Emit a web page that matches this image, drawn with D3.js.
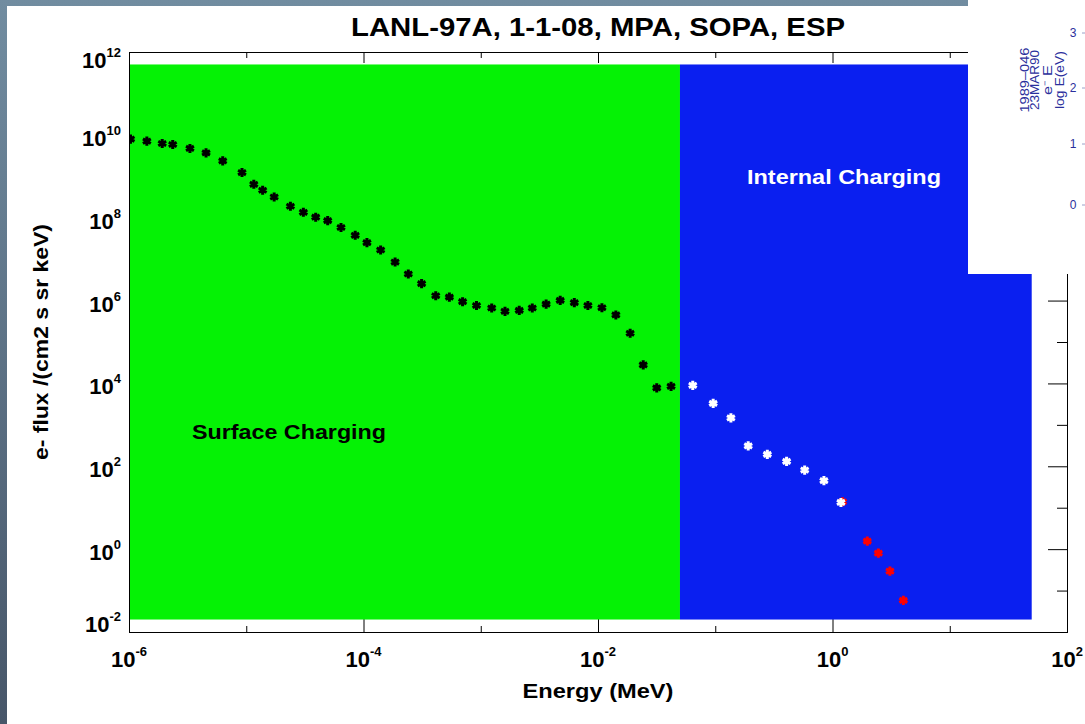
<!DOCTYPE html>
<html>
<head>
<meta charset="utf-8">
<script src="https://cdn.jsdelivr.net/npm/d3@7"></script>
<style>
  html, body { margin: 0; padding: 0; background: #fff; }
  svg { display: block; }
  text { font-family: 'Liberation Sans', Arial, Helvetica, sans-serif; font-weight: bold; }
  text.inset { font-weight: normal; }
</style>
</head>
<body>
<div id="chart"></div>
<script>
// data (energy in MeV, flux per cm2 s sr keV)
const titleText = 'LANL-97A, 1-1-08, MPA, SOPA, ESP';
const xLabel = 'Energy (MeV)';
const yLabel = 'e- flux /(cm2 s sr keV)';

const xDecades = [-6, -5, -4, -3, -2, -1, 0, 1, 2];
const yDecades = [-2, -1, 0, 1, 2, 3, 4, 5, 6, 7, 8, 9, 10, 11, 12];

// charging regions
const regionNames = ['Surface Charging', 'Internal Charging'];
const regionEnergyMin = [1e-6, 0.05];
const regionEnergyMax = [0.05, 50];
const regionFluxMin = 2e-2;
const regionFluxMax = 5e11;

// MPA + SOPA electrons (black)
const energyBlack = [1.03e-6, 1.42e-6, 1.92e-6, 2.36e-6, 3.31e-6, 4.54e-6, 6.3e-6, 9.2e-6,
  1.16e-5, 1.38e-5, 1.73e-5, 2.38e-5, 3.07e-5, 3.91e-5, 4.95e-5, 6.43e-5, 8.5e-5,
  1.07e-4, 1.40e-4, 1.86e-4, 2.41e-4, 3.13e-4, 4.13e-4, 5.40e-4, 7.0e-4, 9.2e-4,
  1.24e-3, 1.61e-3, 2.13e-3, 2.75e-3, 3.61e-3, 4.76e-3, 6.28e-3, 8.2e-3,
  1.08e-2, 1.42e-2, 1.88e-2, 2.43e-2, 3.17e-2, 4.2e-2];
const fluxBlack = [7.9e9, 7.05e9, 6.2e9, 5.86e9, 4.7e9, 3.67e9, 2.35e9, 1.23e9,
  6.4e8, 4.6e8, 3.17e8, 1.89e8, 1.35e8, 1.03e8, 8.5e7, 5.8e7, 3.76e7,
  2.5e7, 1.66e7, 8.5e6, 4.37e6, 2.56e6, 1.31e6, 1.21e6, 9.4e5, 7.6e5,
  6.6e5, 5.5e5, 5.8e5, 6.6e5, 8.2e5, 1.01e6, 8.9e5, 7.6e5,
  6.7e5, 4.5e5, 1.63e5, 2.8e4, 7.8e3, 8.5e3];

// SOPA high energy (white)
const energyWhite = [6.43e-2, 9.6e-2, 0.136, 0.191, 0.278, 0.406, 0.579, 0.845, 1.18];
const fluxWhite = [9.0e3, 3.3e3, 1.47e3, 310, 194, 131, 81, 45, 13.4];

// ESP (red)
const energyRed = [1.22, 1.98, 2.46, 3.09, 4.02];
const fluxRed = [13.9, 1.56, 0.80, 0.294, 0.058];

// inset fragment (top right)
const insetLines = ['1989\u2013046', '23MAR90', 'e\u207B       E', 'log  E(eV)'];
const insetTicks = ['3', '2', '1', '0'];

const width = 1085, height = 724;
const margin = {left: 129, right: 18, top: 52, bottom: 92};

const svg = d3.select('#chart').append('svg')
  .attr('width', width)
  .attr('height', height);

const defs = svg.append('defs');
const grad = defs.append('linearGradient')
  .attr('id', 'bg-grad')
  .attr('x1', '0%').attr('y1', '0%')
  .attr('x2', '0%').attr('y2', '100%');
grad.append('stop').attr('offset', '0%').attr('stop-color', '#718ca0');
grad.append('stop').attr('offset', '100%').attr('stop-color', '#475669');

svg.append('rect').attr('width', width).attr('height', height).attr('fill', 'url(#bg-grad)');
svg.append('rect').attr('x', 7).attr('y', 6)
  .attr('width', width - 7).attr('height', height - 6).attr('fill', '#fff');

const x = d3.scaleLog().domain([1e-6, 1e2]).range([margin.left, width - margin.right]);
const y = d3.scaleLog().domain([1e-2, 1e12]).range([height - margin.bottom, margin.top]);
const x0 = x.range()[0], x1 = x.range()[1];
const y0 = y.range()[0], y1 = y.range()[1];

defs.append('clipPath').attr('id', 'plot-clip')
  .append('rect')
  .attr('x', x0).attr('y', y1)
  .attr('width', x1 - x0).attr('height', y0 - y1);

// ticks (long on even decades, short on odd ones), pointing inwards
const even = (d) => d % 2 === 0;
const xMajor = xDecades.filter(even).map(d => Math.pow(10, d));
const xMinor = xDecades.filter(d => !even(d)).map(d => Math.pow(10, d));
const yMajor = yDecades.filter(even).map(d => Math.pow(10, d));
const yMinor = yDecades.filter(d => !even(d)).map(d => Math.pow(10, d));

function tickAxis(axis, vals, size, tx, ty) {
  const g = svg.append('g').attr('transform', `translate(${tx},${ty})`)
    .call(axis.tickValues(vals).tickSize(size).tickSizeOuter(0).tickFormat(''));
  g.select('.domain').remove();
  g.selectAll('line').attr('stroke', '#000').attr('stroke-width', 1);
}

tickAxis(d3.axisBottom(x), xMajor, 11, 0, y1);
tickAxis(d3.axisBottom(x), xMinor, 6, 0, y1);
tickAxis(d3.axisTop(x), xMajor, 13, 0, y0);
tickAxis(d3.axisTop(x), xMinor, 6, 0, y0);
tickAxis(d3.axisRight(y), yMajor, 19, x0, 0);
tickAxis(d3.axisRight(y), yMinor, 10, x0, 0);
tickAxis(d3.axisLeft(y), yMajor, 19, x1, 0);
tickAxis(d3.axisLeft(y), yMinor, 10, x1, 0);

// charging regions
const regionColors = ['#05f205', '#0a1ff0'];
svg.append('g').selectAll('rect')
  .data(regionNames)
  .join('rect')
  .attr('x', (d, i) => x(regionEnergyMin[i]))
  .attr('y', y(regionFluxMax))
  .attr('width', (d, i) => x(regionEnergyMax[i]) - x(regionEnergyMin[i]))
  .attr('height', y(regionFluxMin) - y(regionFluxMax))
  .attr('fill', (d, i) => regionColors[i]);

// frame
svg.append('rect')
  .attr('x', x0 + 0.5).attr('y', y1 + 0.5)
  .attr('width', x1 - x0).attr('height', y0 - y1)
  .attr('fill', 'none').attr('stroke', '#000').attr('stroke-width', 1);

// data markers
const marker = d3.symbol().type(d3.symbolAsterisk).size(58);
const pts = svg.append('g').attr('clip-path', 'url(#plot-clip)');
function series(es, fs, color) {
  pts.append('g').selectAll('path')
    .data(es.map((e, i) => [e, fs[i]]))
    .join('path')
    .attr('d', marker)
    .attr('transform', d => `translate(${x(d[0])},${y(d[1])})`)
    .attr('fill', 'none')
    .attr('stroke', color)
    .attr('stroke-width', 3);
}
series(energyBlack, fluxBlack, '#000');
series(energyRed, fluxRed, '#ff0000');
series(energyWhite, fluxWhite, '#fff');

// tick labels with superscript exponents
const xl = svg.append('g').selectAll('text')
  .data(xDecades.filter(even))
  .join('text')
  .attr('x', d => x(Math.pow(10, d)))
  .attr('y', 667)
  .attr('text-anchor', 'middle')
  .attr('fill', '#000');
xl.append('tspan').attr('font-size', 22).text('10');
xl.append('tspan').attr('font-size', 13).attr('dy', -11).text(d => d);

const yl = svg.append('g').selectAll('text')
  .data(yDecades.filter(even))
  .join('text')
  .attr('x', 121)
  .attr('y', d => Math.max(60, Math.min(624, y(Math.pow(10, d)) + 3)) + 8)
  .attr('text-anchor', 'end')
  .attr('fill', '#000');
yl.append('tspan').attr('font-size', 22).text('10');
yl.append('tspan').attr('font-size', 13).attr('dy', -11).text(d => d);

// titles
svg.append('text')
  .attr('x', (x0 + x1) / 2).attr('y', 36)
  .attr('text-anchor', 'middle')
  .attr('font-size', 26)
  .attr('textLength', 494).attr('lengthAdjust', 'spacingAndGlyphs')
  .text(titleText);

svg.append('text')
  .attr('x', (x0 + x1) / 2).attr('y', 698)
  .attr('text-anchor', 'middle')
  .attr('font-size', 20)
  .attr('textLength', 151).attr('lengthAdjust', 'spacingAndGlyphs')
  .text(xLabel);

svg.append('text')
  .attr('transform', `translate(48,${(y0 + y1) / 2}) rotate(-90)`)
  .attr('text-anchor', 'middle')
  .attr('font-size', 20)
  .attr('textLength', 236).attr('lengthAdjust', 'spacingAndGlyphs')
  .text(yLabel);

// region labels
svg.append('text')
  .attr('x', 192).attr('y', 439)
  .attr('font-size', 20)
  .attr('textLength', 194).attr('lengthAdjust', 'spacingAndGlyphs')
  .attr('fill', '#000')
  .text(regionNames[0]);
svg.append('text')
  .attr('x', 747).attr('y', 184)
  .attr('font-size', 20)
  .attr('textLength', 194).attr('lengthAdjust', 'spacingAndGlyphs')
  .attr('fill', '#fff')
  .text(regionNames[1]);

// pasted fragment of another figure in the corner
const inset = svg.append('g');
inset.append('rect').attr('x', 968).attr('y', 0)
  .attr('width', width - 968).attr('height', 274).attr('fill', '#fff');
const insetX = [1029, 1039, 1052, 1064];
const insetLen = [65, 60, 30, 58];
inset.selectAll('text.line')
  .data(insetLines)
  .join('text')
  .attr('class', 'inset line')
  .attr('transform', (d, i) => `translate(${insetX[i]},80) rotate(-90)`)
  .attr('text-anchor', 'middle')
  .attr('font-size', 12)
  .attr('textLength', (d, i) => insetLen[i]).attr('lengthAdjust', 'spacingAndGlyphs')
  .attr('fill', '#2b2f9c')
  .text(d => d);
const insetY = [33, 88, 144, 205];
inset.selectAll('text.tick')
  .data(insetTicks)
  .join('text')
  .attr('class', 'inset tick')
  .attr('x', 1073)
  .attr('y', (d, i) => insetY[i] + 4)
  .attr('text-anchor', 'middle')
  .attr('font-size', 12)
  .attr('fill', '#2b2f9c')
  .text(d => d);
inset.selectAll('line')
  .data(insetY)
  .join('line')
  .attr('x1', 1082).attr('x2', 1085)
  .attr('y1', d => d).attr('y2', d => d)
  .attr('stroke', '#9aa0c8');
</script>
</body>
</html>
